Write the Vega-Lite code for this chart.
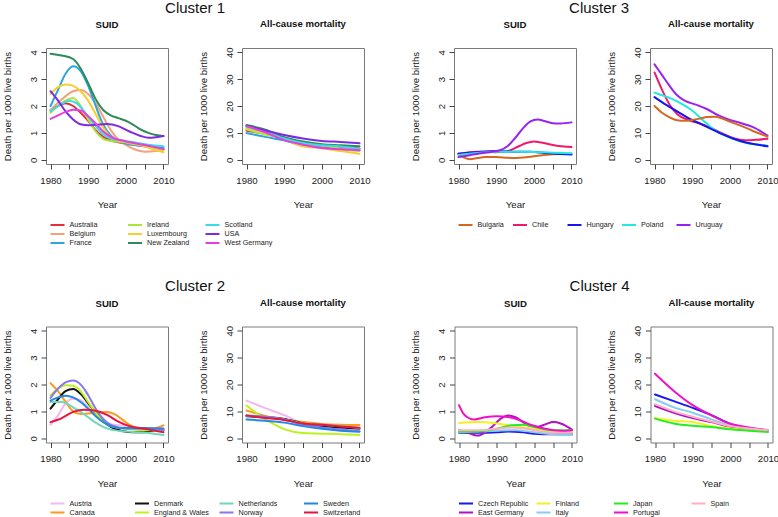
{
"$schema": "https://vega.github.io/schema/vega-lite/v6.json",
"background": "white",
"padding": {"left": 1, "top": 0, "right": 0, "bottom": 0},
"data": {"name": "rows"},
"config": {
  "font": "Liberation Sans",
  "view": {"stroke": "#7a7a7a", "strokeWidth": 1},
  "axis": {"domain": false, "grid": false, "tickColor": "#444444", "tickSize": 5, "tickWidth": 1, "labelFont": "Liberation Sans", "labelFontSize": 9.6, "labelColor": "#1a1a1a", "titleFont": "Liberation Sans", "titleFontSize": 9.6, "titleFontWeight": "normal", "titleColor": "#1a1a1a", "labelFlush": false, "labelOverlap": false},
  "axisX": {"labelPadding": 6, "titlePadding": 15},
  "axisY": {"labelAngle": -90, "labelPadding": 3, "titlePadding": 16},
  "title": {"font": "Liberation Sans", "fontSize": 9.6, "fontWeight": "bold", "anchor": "middle", "frame": "group", "offset": 18, "color": "#111111"},
  "legend": {"labelFont": "Liberation Sans", "labelFontSize": 7.2, "labelColor": "#222222", "symbolSize": 196, "symbolStrokeWidth": 2, "symbolType": "stroke", "labelOffset": 4, "columnPadding": 6.5, "rowPadding": 0, "clipHeight": 9, "gridAlign": "all", "padding": 0}
},
"spacing": 30.5,
"resolve": {"scale": {"color": "independent"}},
"vconcat": [
 {"spacing": 38, "resolve": {"scale": {"color": "independent"}}, "hconcat": [
  {"title": {"text": "Cluster 1", "fontSize": 15, "fontWeight": "normal", "anchor": "middle", "frame": "bounds", "offset": 3, "dx": 9}, "bounds": "flush", "spacing": 74, "hconcat": [
   {"width": 122, "height": 116, "title": "SUID",
    "transform": [{"filter": {"and": [{"field": "cl", "equal": 1}, {"field": "pn", "equal": "S"}]}}],
    "mark": {"type": "line", "interpolate": "monotone", "strokeWidth": 2, "strokeCap": "round"},
    "encoding": {
     "x": {"field": "year", "type": "quantitative", "title": "Year", "scale": {"domain": [1978.8, 2011.2], "nice": false, "zero": false}, "axis": {"values": [1980,1985,1990,1995,2000,2005,2010], "format": "d", "labelExpr": "datum.value % 10 === 0 ? datum.label : ''"}},
     "y": {"field": "value", "type": "quantitative", "title": "Death per 1000 live births", "scale": {"domain": [-0.16, 4.16], "nice": false, "zero": false}, "axis": {"values": [0,1,2,3,4]}},
     "color": {"field": "country", "type": "nominal", "scale": {"domain": ["Australia","Ireland","Scotland","Belgium","Luxembourg","USA","France","New Zealand","West Germany"], "range": ["#E0303A","#A8E63A","#3CD8EC","#F4A07A","#F5CF30","#7B2BE0","#2BA5DE","#2E8B57","#E83CE0"]}, "legend": {"title": null, "orient": "none", "legendX": 3.5, "legendY": 172.5, "columns": 3, "columnPadding": 9.5, "direction": "horizontal"}}
    }},
   {"width": 122, "height": 116, "title": "All-cause mortality",
    "transform": [{"filter": {"and": [{"field": "cl", "equal": 1}, {"field": "pn", "equal": "M"}]}}],
    "mark": {"type": "line", "interpolate": "monotone", "strokeWidth": 2, "strokeCap": "round"},
    "encoding": {
     "x": {"field": "year", "type": "quantitative", "title": "Year", "scale": {"domain": [1978.8, 2011.2], "nice": false, "zero": false}, "axis": {"values": [1980,1985,1990,1995,2000,2005,2010], "format": "d", "labelExpr": "datum.value % 10 === 0 ? datum.label : ''"}},
     "y": {"field": "value", "type": "quantitative", "title": "Death per 1000 live births", "scale": {"domain": [-1.6, 41.6], "nice": false, "zero": false}, "axis": {"values": [0,10,20,30,40]}},
     "color": {"field": "country", "type": "nominal", "scale": {"domain": ["Australia","Ireland","Scotland","Belgium","Luxembourg","USA","France","New Zealand","West Germany"], "range": ["#E0303A","#A8E63A","#3CD8EC","#F4A07A","#F5CF30","#7B2BE0","#2BA5DE","#2E8B57","#E83CE0"]}, "legend": {"title": null, "orient": "none", "legendX": 3.5, "legendY": 172.5, "columns": 3, "columnPadding": 9.5, "direction": "horizontal"}}
    }}
  ]},
  {"title": {"text": "Cluster 3", "fontSize": 15, "fontWeight": "normal", "anchor": "middle", "frame": "bounds", "offset": 3, "dx": 5}, "bounds": "flush", "spacing": 74, "hconcat": [
   {"width": 122, "height": 116, "title": "SUID",
    "transform": [{"filter": {"and": [{"field": "cl", "equal": 3}, {"field": "pn", "equal": "S"}]}}],
    "mark": {"type": "line", "interpolate": "monotone", "strokeWidth": 2, "strokeCap": "round"},
    "encoding": {
     "x": {"field": "year", "type": "quantitative", "title": "Year", "scale": {"domain": [1978.8, 2011.2], "nice": false, "zero": false}, "axis": {"values": [1980,1985,1990,1995,2000,2005,2010], "format": "d", "labelExpr": "datum.value % 10 === 0 ? datum.label : ''"}},
     "y": {"field": "value", "type": "quantitative", "title": "Death per 1000 live births", "scale": {"domain": [-0.16, 4.16], "nice": false, "zero": false}, "axis": {"values": [0,1,2,3,4]}},
     "color": {"field": "country", "type": "nominal", "scale": {"domain": ["Bulgaria","Chile","Hungary","Poland","Uruguay"], "range": ["#D2691E","#F0196A","#1515F0","#22E8E0","#9A22F0"]}, "legend": {"title": null, "orient": "none", "legendX": 3.5, "legendY": 172.5, "columns": 5, "direction": "horizontal"}}
    }},
   {"width": 122, "height": 116, "title": "All-cause mortality",
    "transform": [{"filter": {"and": [{"field": "cl", "equal": 3}, {"field": "pn", "equal": "M"}]}}],
    "mark": {"type": "line", "interpolate": "monotone", "strokeWidth": 2, "strokeCap": "round"},
    "encoding": {
     "x": {"field": "year", "type": "quantitative", "title": "Year", "scale": {"domain": [1978.8, 2011.2], "nice": false, "zero": false}, "axis": {"values": [1980,1985,1990,1995,2000,2005,2010], "format": "d", "labelExpr": "datum.value % 10 === 0 ? datum.label : ''"}},
     "y": {"field": "value", "type": "quantitative", "title": "Death per 1000 live births", "scale": {"domain": [-1.6, 41.6], "nice": false, "zero": false}, "axis": {"values": [0,10,20,30,40]}},
     "color": {"field": "country", "type": "nominal", "scale": {"domain": ["Bulgaria","Chile","Hungary","Poland","Uruguay"], "range": ["#D2691E","#F0196A","#1515F0","#22E8E0","#9A22F0"]}, "legend": {"title": null, "orient": "none", "legendX": 3.5, "legendY": 172.5, "columns": 5, "direction": "horizontal"}}
    }}
  ]}
 ]},
 {"spacing": 38.5, "resolve": {"scale": {"color": "independent"}}, "hconcat": [
  {"title": {"text": "Cluster 2", "fontSize": 15, "fontWeight": "normal", "anchor": "middle", "frame": "bounds", "offset": 3, "dx": 9}, "bounds": "flush", "spacing": 74, "hconcat": [
   {"width": 122, "height": 116, "title": "SUID",
    "transform": [{"filter": {"and": [{"field": "cl", "equal": 2}, {"field": "pn", "equal": "S"}]}}],
    "mark": {"type": "line", "interpolate": "monotone", "strokeWidth": 2, "strokeCap": "round"},
    "encoding": {
     "x": {"field": "year", "type": "quantitative", "title": "Year", "scale": {"domain": [1978.8, 2011.2], "nice": false, "zero": false}, "axis": {"values": [1980,1985,1990,1995,2000,2005,2010], "format": "d", "labelExpr": "datum.value % 10 === 0 ? datum.label : ''"}},
     "y": {"field": "value", "type": "quantitative", "title": "Death per 1000 live births", "scale": {"domain": [-0.16, 4.16], "nice": false, "zero": false}, "axis": {"values": [0,1,2,3,4]}},
     "color": {"field": "country", "type": "nominal", "scale": {"domain": ["Austria","Denmark","Netherlands","Sweden","Canada","England & Wales","Norway","Switzerland"], "range": ["#F4B8EC","#111111","#6ED8B8","#2288E8","#FF9A1A","#BDF21A","#8877EE","#E8143C"]}, "legend": {"title": null, "orient": "none", "legendX": 3.5, "legendY": 172.5, "columns": 4, "columnPadding": 9.5, "direction": "horizontal"}}
    }},
   {"width": 122, "height": 116, "title": "All-cause mortality",
    "transform": [{"filter": {"and": [{"field": "cl", "equal": 2}, {"field": "pn", "equal": "M"}]}}],
    "mark": {"type": "line", "interpolate": "monotone", "strokeWidth": 2, "strokeCap": "round"},
    "encoding": {
     "x": {"field": "year", "type": "quantitative", "title": "Year", "scale": {"domain": [1978.8, 2011.2], "nice": false, "zero": false}, "axis": {"values": [1980,1985,1990,1995,2000,2005,2010], "format": "d", "labelExpr": "datum.value % 10 === 0 ? datum.label : ''"}},
     "y": {"field": "value", "type": "quantitative", "title": "Death per 1000 live births", "scale": {"domain": [-1.6, 41.6], "nice": false, "zero": false}, "axis": {"values": [0,10,20,30,40]}},
     "color": {"field": "country", "type": "nominal", "scale": {"domain": ["Austria","Denmark","Netherlands","Sweden","Canada","England & Wales","Norway","Switzerland"], "range": ["#F4B8EC","#111111","#6ED8B8","#2288E8","#FF9A1A","#BDF21A","#8877EE","#E8143C"]}, "legend": {"title": null, "orient": "none", "legendX": 3.5, "legendY": 172.5, "columns": 4, "columnPadding": 9.5, "direction": "horizontal"}}
    }}
  ]},
  {"title": {"text": "Cluster 4", "fontSize": 15, "fontWeight": "normal", "anchor": "middle", "frame": "bounds", "offset": 3, "dx": 5}, "bounds": "flush", "spacing": 74, "hconcat": [
   {"width": 122, "height": 116, "title": "SUID",
    "transform": [{"filter": {"and": [{"field": "cl", "equal": 4}, {"field": "pn", "equal": "S"}]}}],
    "mark": {"type": "line", "interpolate": "monotone", "strokeWidth": 2, "strokeCap": "round"},
    "encoding": {
     "x": {"field": "year", "type": "quantitative", "title": "Year", "scale": {"domain": [1978.8, 2011.2], "nice": false, "zero": false}, "axis": {"values": [1980,1985,1990,1995,2000,2005,2010], "format": "d", "labelExpr": "datum.value % 10 === 0 ? datum.label : ''"}},
     "y": {"field": "value", "type": "quantitative", "title": "Death per 1000 live births", "scale": {"domain": [-0.16, 4.16], "nice": false, "zero": false}, "axis": {"values": [0,1,2,3,4]}},
     "color": {"field": "country", "type": "nominal", "scale": {"domain": ["Czech Republic","Finland","Japan","Spain","East Germany","Italy","Portugal"], "range": ["#1818F0","#F5F020","#22EE22","#FFB0C0","#B010C8","#88CCEE","#F010C8"]}, "legend": {"title": null, "orient": "none", "legendX": 3.5, "legendY": 172.5, "columns": 4, "direction": "horizontal"}}
    }},
   {"width": 122, "height": 116, "title": "All-cause mortality",
    "transform": [{"filter": {"and": [{"field": "cl", "equal": 4}, {"field": "pn", "equal": "M"}]}}],
    "mark": {"type": "line", "interpolate": "monotone", "strokeWidth": 2, "strokeCap": "round"},
    "encoding": {
     "x": {"field": "year", "type": "quantitative", "title": "Year", "scale": {"domain": [1978.8, 2011.2], "nice": false, "zero": false}, "axis": {"values": [1980,1985,1990,1995,2000,2005,2010], "format": "d", "labelExpr": "datum.value % 10 === 0 ? datum.label : ''"}},
     "y": {"field": "value", "type": "quantitative", "title": "Death per 1000 live births", "scale": {"domain": [-1.6, 41.6], "nice": false, "zero": false}, "axis": {"values": [0,10,20,30,40]}},
     "color": {"field": "country", "type": "nominal", "scale": {"domain": ["Czech Republic","Finland","Japan","Spain","East Germany","Italy","Portugal"], "range": ["#1818F0","#F5F020","#22EE22","#FFB0C0","#B010C8","#88CCEE","#F010C8"]}, "legend": {"title": null, "orient": "none", "legendX": 3.5, "legendY": 172.5, "columns": 4, "direction": "horizontal"}}
    }}
  ]}
 ]}
],
"datasets": {"rows": [
{"cl":1,"pn":"S","country":"Australia","year":1980,"value":1.85},{"cl":1,"pn":"S","country":"Australia","year":1982,"value":2.0},{"cl":1,"pn":"S","country":"Australia","year":1984,"value":2.1},{"cl":1,"pn":"S","country":"Australia","year":1986,"value":2.0},{"cl":1,"pn":"S","country":"Australia","year":1988,"value":1.75},{"cl":1,"pn":"S","country":"Australia","year":1990,"value":1.45},{"cl":1,"pn":"S","country":"Australia","year":1992,"value":1.1},{"cl":1,"pn":"S","country":"Australia","year":1994,"value":0.85},{"cl":1,"pn":"S","country":"Australia","year":1996,"value":0.72},{"cl":1,"pn":"S","country":"Australia","year":2000,"value":0.6},{"cl":1,"pn":"S","country":"Australia","year":2005,"value":0.5},{"cl":1,"pn":"S","country":"Australia","year":2010,"value":0.4},
{"cl":1,"pn":"S","country":"Belgium","year":1980,"value":1.85},{"cl":1,"pn":"S","country":"Belgium","year":1983,"value":2.25},{"cl":1,"pn":"S","country":"Belgium","year":1986,"value":2.55},{"cl":1,"pn":"S","country":"Belgium","year":1988,"value":2.6},{"cl":1,"pn":"S","country":"Belgium","year":1990,"value":2.45},{"cl":1,"pn":"S","country":"Belgium","year":1992,"value":2.1},{"cl":1,"pn":"S","country":"Belgium","year":1994,"value":1.6},{"cl":1,"pn":"S","country":"Belgium","year":1996,"value":1.1},{"cl":1,"pn":"S","country":"Belgium","year":1998,"value":0.75},{"cl":1,"pn":"S","country":"Belgium","year":2000,"value":0.55},{"cl":1,"pn":"S","country":"Belgium","year":2003,"value":0.35},{"cl":1,"pn":"S","country":"Belgium","year":2005,"value":0.3},{"cl":1,"pn":"S","country":"Belgium","year":2008,"value":0.32},{"cl":1,"pn":"S","country":"Belgium","year":2010,"value":0.38},
{"cl":1,"pn":"S","country":"France","year":1980,"value":2.0},{"cl":1,"pn":"S","country":"France","year":1982,"value":2.6},{"cl":1,"pn":"S","country":"France","year":1984,"value":3.2},{"cl":1,"pn":"S","country":"France","year":1986,"value":3.48},{"cl":1,"pn":"S","country":"France","year":1988,"value":3.3},{"cl":1,"pn":"S","country":"France","year":1990,"value":2.75},{"cl":1,"pn":"S","country":"France","year":1992,"value":2.0},{"cl":1,"pn":"S","country":"France","year":1994,"value":1.3},{"cl":1,"pn":"S","country":"France","year":1996,"value":0.9},{"cl":1,"pn":"S","country":"France","year":1998,"value":0.7},{"cl":1,"pn":"S","country":"France","year":2000,"value":0.6},{"cl":1,"pn":"S","country":"France","year":2005,"value":0.5},{"cl":1,"pn":"S","country":"France","year":2010,"value":0.45},
{"cl":1,"pn":"S","country":"Ireland","year":1980,"value":1.75},{"cl":1,"pn":"S","country":"Ireland","year":1982,"value":2.0},{"cl":1,"pn":"S","country":"Ireland","year":1984,"value":2.2},{"cl":1,"pn":"S","country":"Ireland","year":1986,"value":2.3},{"cl":1,"pn":"S","country":"Ireland","year":1988,"value":2.0},{"cl":1,"pn":"S","country":"Ireland","year":1990,"value":1.5},{"cl":1,"pn":"S","country":"Ireland","year":1992,"value":1.05},{"cl":1,"pn":"S","country":"Ireland","year":1994,"value":0.78},{"cl":1,"pn":"S","country":"Ireland","year":1996,"value":0.7},{"cl":1,"pn":"S","country":"Ireland","year":2000,"value":0.65},{"cl":1,"pn":"S","country":"Ireland","year":2005,"value":0.55},{"cl":1,"pn":"S","country":"Ireland","year":2008,"value":0.42},{"cl":1,"pn":"S","country":"Ireland","year":2010,"value":0.35},
{"cl":1,"pn":"S","country":"Luxembourg","year":1980,"value":2.45},{"cl":1,"pn":"S","country":"Luxembourg","year":1982,"value":2.7},{"cl":1,"pn":"S","country":"Luxembourg","year":1984,"value":2.8},{"cl":1,"pn":"S","country":"Luxembourg","year":1986,"value":2.75},{"cl":1,"pn":"S","country":"Luxembourg","year":1988,"value":2.55},{"cl":1,"pn":"S","country":"Luxembourg","year":1990,"value":2.2},{"cl":1,"pn":"S","country":"Luxembourg","year":1992,"value":1.7},{"cl":1,"pn":"S","country":"Luxembourg","year":1994,"value":1.2},{"cl":1,"pn":"S","country":"Luxembourg","year":1996,"value":0.85},{"cl":1,"pn":"S","country":"Luxembourg","year":2000,"value":0.65},{"cl":1,"pn":"S","country":"Luxembourg","year":2005,"value":0.5},{"cl":1,"pn":"S","country":"Luxembourg","year":2008,"value":0.35},{"cl":1,"pn":"S","country":"Luxembourg","year":2010,"value":0.28},
{"cl":1,"pn":"S","country":"New Zealand","year":1980,"value":3.95},{"cl":1,"pn":"S","country":"New Zealand","year":1983,"value":3.88},{"cl":1,"pn":"S","country":"New Zealand","year":1986,"value":3.75},{"cl":1,"pn":"S","country":"New Zealand","year":1988,"value":3.4},{"cl":1,"pn":"S","country":"New Zealand","year":1990,"value":2.85},{"cl":1,"pn":"S","country":"New Zealand","year":1992,"value":2.25},{"cl":1,"pn":"S","country":"New Zealand","year":1994,"value":1.85},{"cl":1,"pn":"S","country":"New Zealand","year":1996,"value":1.65},{"cl":1,"pn":"S","country":"New Zealand","year":1998,"value":1.55},{"cl":1,"pn":"S","country":"New Zealand","year":2000,"value":1.45},{"cl":1,"pn":"S","country":"New Zealand","year":2002,"value":1.3},{"cl":1,"pn":"S","country":"New Zealand","year":2004,"value":1.12},{"cl":1,"pn":"S","country":"New Zealand","year":2006,"value":1.0},{"cl":1,"pn":"S","country":"New Zealand","year":2008,"value":0.92},{"cl":1,"pn":"S","country":"New Zealand","year":2010,"value":0.88},
{"cl":1,"pn":"S","country":"Scotland","year":1980,"value":1.8},{"cl":1,"pn":"S","country":"Scotland","year":1982,"value":2.0},{"cl":1,"pn":"S","country":"Scotland","year":1985,"value":2.2},{"cl":1,"pn":"S","country":"Scotland","year":1987,"value":2.1},{"cl":1,"pn":"S","country":"Scotland","year":1990,"value":1.6},{"cl":1,"pn":"S","country":"Scotland","year":1992,"value":1.25},{"cl":1,"pn":"S","country":"Scotland","year":1994,"value":0.95},{"cl":1,"pn":"S","country":"Scotland","year":1996,"value":0.8},{"cl":1,"pn":"S","country":"Scotland","year":2000,"value":0.7},{"cl":1,"pn":"S","country":"Scotland","year":2005,"value":0.58},{"cl":1,"pn":"S","country":"Scotland","year":2010,"value":0.5},
{"cl":1,"pn":"S","country":"USA","year":1980,"value":2.55},{"cl":1,"pn":"S","country":"USA","year":1982,"value":2.2},{"cl":1,"pn":"S","country":"USA","year":1984,"value":1.8},{"cl":1,"pn":"S","country":"USA","year":1986,"value":1.5},{"cl":1,"pn":"S","country":"USA","year":1988,"value":1.32},{"cl":1,"pn":"S","country":"USA","year":1990,"value":1.28},{"cl":1,"pn":"S","country":"USA","year":1992,"value":1.3},{"cl":1,"pn":"S","country":"USA","year":1995,"value":1.33},{"cl":1,"pn":"S","country":"USA","year":1998,"value":1.25},{"cl":1,"pn":"S","country":"USA","year":2001,"value":1.05},{"cl":1,"pn":"S","country":"USA","year":2004,"value":0.88},{"cl":1,"pn":"S","country":"USA","year":2006,"value":0.82},{"cl":1,"pn":"S","country":"USA","year":2008,"value":0.84},{"cl":1,"pn":"S","country":"USA","year":2010,"value":0.88},
{"cl":1,"pn":"S","country":"West Germany","year":1980,"value":1.52},{"cl":1,"pn":"S","country":"West Germany","year":1982,"value":1.65},{"cl":1,"pn":"S","country":"West Germany","year":1984,"value":1.78},{"cl":1,"pn":"S","country":"West Germany","year":1986,"value":1.86},{"cl":1,"pn":"S","country":"West Germany","year":1988,"value":1.83},{"cl":1,"pn":"S","country":"West Germany","year":1990,"value":1.62},{"cl":1,"pn":"S","country":"West Germany","year":1992,"value":1.35},{"cl":1,"pn":"S","country":"West Germany","year":1994,"value":1.05},{"cl":1,"pn":"S","country":"West Germany","year":1996,"value":0.85},{"cl":1,"pn":"S","country":"West Germany","year":2000,"value":0.68},{"cl":1,"pn":"S","country":"West Germany","year":2005,"value":0.55},{"cl":1,"pn":"S","country":"West Germany","year":2010,"value":0.4},
{"cl":1,"pn":"M","country":"Australia","year":1980,"value":10.8},{"cl":1,"pn":"M","country":"Australia","year":1985,"value":9.6},{"cl":1,"pn":"M","country":"Australia","year":1990,"value":8.0},{"cl":1,"pn":"M","country":"Australia","year":1995,"value":6.0},{"cl":1,"pn":"M","country":"Australia","year":2000,"value":5.2},{"cl":1,"pn":"M","country":"Australia","year":2005,"value":4.8},{"cl":1,"pn":"M","country":"Australia","year":2010,"value":4.2},
{"cl":1,"pn":"M","country":"Belgium","year":1980,"value":11.8},{"cl":1,"pn":"M","country":"Belgium","year":1985,"value":10.0},{"cl":1,"pn":"M","country":"Belgium","year":1990,"value":7.8},{"cl":1,"pn":"M","country":"Belgium","year":1995,"value":5.9},{"cl":1,"pn":"M","country":"Belgium","year":2000,"value":5.0},{"cl":1,"pn":"M","country":"Belgium","year":2005,"value":4.0},{"cl":1,"pn":"M","country":"Belgium","year":2010,"value":3.5},
{"cl":1,"pn":"M","country":"France","year":1980,"value":9.9},{"cl":1,"pn":"M","country":"France","year":1985,"value":8.5},{"cl":1,"pn":"M","country":"France","year":1990,"value":7.2},{"cl":1,"pn":"M","country":"France","year":1995,"value":5.3},{"cl":1,"pn":"M","country":"France","year":2000,"value":4.5},{"cl":1,"pn":"M","country":"France","year":2005,"value":3.8},{"cl":1,"pn":"M","country":"France","year":2010,"value":3.5},
{"cl":1,"pn":"M","country":"Ireland","year":1980,"value":11.2},{"cl":1,"pn":"M","country":"Ireland","year":1985,"value":9.4},{"cl":1,"pn":"M","country":"Ireland","year":1990,"value":7.9},{"cl":1,"pn":"M","country":"Ireland","year":1995,"value":6.0},{"cl":1,"pn":"M","country":"Ireland","year":2000,"value":5.6},{"cl":1,"pn":"M","country":"Ireland","year":2005,"value":4.0},{"cl":1,"pn":"M","country":"Ireland","year":2010,"value":3.3},
{"cl":1,"pn":"M","country":"Luxembourg","year":1980,"value":11.6},{"cl":1,"pn":"M","country":"Luxembourg","year":1985,"value":10.0},{"cl":1,"pn":"M","country":"Luxembourg","year":1990,"value":7.7},{"cl":1,"pn":"M","country":"Luxembourg","year":1995,"value":4.9},{"cl":1,"pn":"M","country":"Luxembourg","year":2000,"value":4.3},{"cl":1,"pn":"M","country":"Luxembourg","year":2005,"value":3.2},{"cl":1,"pn":"M","country":"Luxembourg","year":2010,"value":2.2},
{"cl":1,"pn":"M","country":"New Zealand","year":1980,"value":12.9},{"cl":1,"pn":"M","country":"New Zealand","year":1985,"value":11.2},{"cl":1,"pn":"M","country":"New Zealand","year":1990,"value":8.4},{"cl":1,"pn":"M","country":"New Zealand","year":1995,"value":6.8},{"cl":1,"pn":"M","country":"New Zealand","year":2000,"value":5.8},{"cl":1,"pn":"M","country":"New Zealand","year":2005,"value":5.4},{"cl":1,"pn":"M","country":"New Zealand","year":2010,"value":5.0},
{"cl":1,"pn":"M","country":"Scotland","year":1980,"value":12.2},{"cl":1,"pn":"M","country":"Scotland","year":1985,"value":10.3},{"cl":1,"pn":"M","country":"Scotland","year":1990,"value":7.9},{"cl":1,"pn":"M","country":"Scotland","year":1995,"value":6.2},{"cl":1,"pn":"M","country":"Scotland","year":2000,"value":5.4},{"cl":1,"pn":"M","country":"Scotland","year":2005,"value":4.9},{"cl":1,"pn":"M","country":"Scotland","year":2010,"value":4.0},
{"cl":1,"pn":"M","country":"USA","year":1980,"value":12.6},{"cl":1,"pn":"M","country":"USA","year":1985,"value":10.9},{"cl":1,"pn":"M","country":"USA","year":1990,"value":9.2},{"cl":1,"pn":"M","country":"USA","year":1995,"value":7.9},{"cl":1,"pn":"M","country":"USA","year":2000,"value":7.0},{"cl":1,"pn":"M","country":"USA","year":2005,"value":6.6},{"cl":1,"pn":"M","country":"USA","year":2010,"value":6.1},
{"cl":1,"pn":"M","country":"West Germany","year":1980,"value":12.5},{"cl":1,"pn":"M","country":"West Germany","year":1985,"value":10.2},{"cl":1,"pn":"M","country":"West Germany","year":1990,"value":7.3},{"cl":1,"pn":"M","country":"West Germany","year":1995,"value":5.6},{"cl":1,"pn":"M","country":"West Germany","year":2000,"value":4.4},{"cl":1,"pn":"M","country":"West Germany","year":2005,"value":3.9},{"cl":1,"pn":"M","country":"West Germany","year":2010,"value":3.5},
{"cl":3,"pn":"S","country":"Bulgaria","year":1980,"value":0.2},{"cl":3,"pn":"S","country":"Bulgaria","year":1982,"value":0.05},{"cl":3,"pn":"S","country":"Bulgaria","year":1983,"value":0.02},{"cl":3,"pn":"S","country":"Bulgaria","year":1985,"value":0.06},{"cl":3,"pn":"S","country":"Bulgaria","year":1987,"value":0.1},{"cl":3,"pn":"S","country":"Bulgaria","year":1990,"value":0.1},{"cl":3,"pn":"S","country":"Bulgaria","year":1993,"value":0.07},{"cl":3,"pn":"S","country":"Bulgaria","year":1995,"value":0.06},{"cl":3,"pn":"S","country":"Bulgaria","year":1998,"value":0.09},{"cl":3,"pn":"S","country":"Bulgaria","year":2000,"value":0.13},{"cl":3,"pn":"S","country":"Bulgaria","year":2005,"value":0.2},{"cl":3,"pn":"S","country":"Bulgaria","year":2010,"value":0.22},
{"cl":3,"pn":"S","country":"Chile","year":1980,"value":0.22},{"cl":3,"pn":"S","country":"Chile","year":1985,"value":0.3},{"cl":3,"pn":"S","country":"Chile","year":1988,"value":0.3},{"cl":3,"pn":"S","country":"Chile","year":1990,"value":0.28},{"cl":3,"pn":"S","country":"Chile","year":1993,"value":0.32},{"cl":3,"pn":"S","country":"Chile","year":1996,"value":0.5},{"cl":3,"pn":"S","country":"Chile","year":1998,"value":0.62},{"cl":3,"pn":"S","country":"Chile","year":2000,"value":0.68},{"cl":3,"pn":"S","country":"Chile","year":2002,"value":0.64},{"cl":3,"pn":"S","country":"Chile","year":2005,"value":0.55},{"cl":3,"pn":"S","country":"Chile","year":2008,"value":0.49},{"cl":3,"pn":"S","country":"Chile","year":2010,"value":0.47},
{"cl":3,"pn":"S","country":"Hungary","year":1980,"value":0.22},{"cl":3,"pn":"S","country":"Hungary","year":1985,"value":0.28},{"cl":3,"pn":"S","country":"Hungary","year":1990,"value":0.32},{"cl":3,"pn":"S","country":"Hungary","year":1995,"value":0.3},{"cl":3,"pn":"S","country":"Hungary","year":1999,"value":0.3},{"cl":3,"pn":"S","country":"Hungary","year":2003,"value":0.25},{"cl":3,"pn":"S","country":"Hungary","year":2006,"value":0.22},{"cl":3,"pn":"S","country":"Hungary","year":2010,"value":0.19},
{"cl":3,"pn":"S","country":"Poland","year":1980,"value":0.18},{"cl":3,"pn":"S","country":"Poland","year":1985,"value":0.25},{"cl":3,"pn":"S","country":"Poland","year":1990,"value":0.3},{"cl":3,"pn":"S","country":"Poland","year":1995,"value":0.3},{"cl":3,"pn":"S","country":"Poland","year":2000,"value":0.29},{"cl":3,"pn":"S","country":"Poland","year":2005,"value":0.26},{"cl":3,"pn":"S","country":"Poland","year":2010,"value":0.24},
{"cl":3,"pn":"S","country":"Uruguay","year":1980,"value":0.1},{"cl":3,"pn":"S","country":"Uruguay","year":1983,"value":0.17},{"cl":3,"pn":"S","country":"Uruguay","year":1986,"value":0.24},{"cl":3,"pn":"S","country":"Uruguay","year":1989,"value":0.3},{"cl":3,"pn":"S","country":"Uruguay","year":1991,"value":0.35},{"cl":3,"pn":"S","country":"Uruguay","year":1993,"value":0.5},{"cl":3,"pn":"S","country":"Uruguay","year":1995,"value":0.8},{"cl":3,"pn":"S","country":"Uruguay","year":1997,"value":1.15},{"cl":3,"pn":"S","country":"Uruguay","year":1999,"value":1.42},{"cl":3,"pn":"S","country":"Uruguay","year":2001,"value":1.5},{"cl":3,"pn":"S","country":"Uruguay","year":2003,"value":1.43},{"cl":3,"pn":"S","country":"Uruguay","year":2005,"value":1.36},{"cl":3,"pn":"S","country":"Uruguay","year":2007,"value":1.35},{"cl":3,"pn":"S","country":"Uruguay","year":2010,"value":1.39},
{"cl":3,"pn":"M","country":"Uruguay","year":1980,"value":35.5},{"cl":3,"pn":"M","country":"Uruguay","year":1982,"value":31.5},{"cl":3,"pn":"M","country":"Uruguay","year":1984,"value":27.5},{"cl":3,"pn":"M","country":"Uruguay","year":1986,"value":24.0},{"cl":3,"pn":"M","country":"Uruguay","year":1988,"value":22.0},{"cl":3,"pn":"M","country":"Uruguay","year":1991,"value":20.5},{"cl":3,"pn":"M","country":"Uruguay","year":1994,"value":18.8},{"cl":3,"pn":"M","country":"Uruguay","year":1997,"value":16.5},{"cl":3,"pn":"M","country":"Uruguay","year":2000,"value":14.8},{"cl":3,"pn":"M","country":"Uruguay","year":2003,"value":13.6},{"cl":3,"pn":"M","country":"Uruguay","year":2006,"value":12.2},{"cl":3,"pn":"M","country":"Uruguay","year":2010,"value":9.0},
{"cl":3,"pn":"M","country":"Chile","year":1980,"value":32.5},{"cl":3,"pn":"M","country":"Chile","year":1982,"value":26.0},{"cl":3,"pn":"M","country":"Chile","year":1984,"value":20.5},{"cl":3,"pn":"M","country":"Chile","year":1986,"value":17.0},{"cl":3,"pn":"M","country":"Chile","year":1989,"value":14.8},{"cl":3,"pn":"M","country":"Chile","year":1992,"value":13.5},{"cl":3,"pn":"M","country":"Chile","year":1995,"value":11.8},{"cl":3,"pn":"M","country":"Chile","year":1998,"value":9.8},{"cl":3,"pn":"M","country":"Chile","year":2001,"value":8.0},{"cl":3,"pn":"M","country":"Chile","year":2004,"value":7.2},{"cl":3,"pn":"M","country":"Chile","year":2007,"value":7.4},{"cl":3,"pn":"M","country":"Chile","year":2010,"value":7.8},
{"cl":3,"pn":"M","country":"Poland","year":1980,"value":25.0},{"cl":3,"pn":"M","country":"Poland","year":1982,"value":24.0},{"cl":3,"pn":"M","country":"Poland","year":1984,"value":23.0},{"cl":3,"pn":"M","country":"Poland","year":1987,"value":21.0},{"cl":3,"pn":"M","country":"Poland","year":1990,"value":18.3},{"cl":3,"pn":"M","country":"Poland","year":1993,"value":14.5},{"cl":3,"pn":"M","country":"Poland","year":1996,"value":11.0},{"cl":3,"pn":"M","country":"Poland","year":1999,"value":8.8},{"cl":3,"pn":"M","country":"Poland","year":2002,"value":7.2},{"cl":3,"pn":"M","country":"Poland","year":2005,"value":6.0},{"cl":3,"pn":"M","country":"Poland","year":2008,"value":5.6},{"cl":3,"pn":"M","country":"Poland","year":2010,"value":5.2},
{"cl":3,"pn":"M","country":"Hungary","year":1980,"value":23.3},{"cl":3,"pn":"M","country":"Hungary","year":1983,"value":20.5},{"cl":3,"pn":"M","country":"Hungary","year":1986,"value":18.0},{"cl":3,"pn":"M","country":"Hungary","year":1989,"value":15.5},{"cl":3,"pn":"M","country":"Hungary","year":1992,"value":13.5},{"cl":3,"pn":"M","country":"Hungary","year":1995,"value":11.5},{"cl":3,"pn":"M","country":"Hungary","year":1998,"value":9.5},{"cl":3,"pn":"M","country":"Hungary","year":2001,"value":7.8},{"cl":3,"pn":"M","country":"Hungary","year":2004,"value":6.5},{"cl":3,"pn":"M","country":"Hungary","year":2007,"value":5.7},{"cl":3,"pn":"M","country":"Hungary","year":2010,"value":5.0},
{"cl":3,"pn":"M","country":"Bulgaria","year":1980,"value":20.0},{"cl":3,"pn":"M","country":"Bulgaria","year":1982,"value":17.5},{"cl":3,"pn":"M","country":"Bulgaria","year":1984,"value":15.8},{"cl":3,"pn":"M","country":"Bulgaria","year":1986,"value":14.7},{"cl":3,"pn":"M","country":"Bulgaria","year":1988,"value":14.5},{"cl":3,"pn":"M","country":"Bulgaria","year":1990,"value":14.8},{"cl":3,"pn":"M","country":"Bulgaria","year":1992,"value":15.3},{"cl":3,"pn":"M","country":"Bulgaria","year":1994,"value":15.9},{"cl":3,"pn":"M","country":"Bulgaria","year":1996,"value":16.0},{"cl":3,"pn":"M","country":"Bulgaria","year":1998,"value":15.3},{"cl":3,"pn":"M","country":"Bulgaria","year":2000,"value":14.2},{"cl":3,"pn":"M","country":"Bulgaria","year":2003,"value":12.6},{"cl":3,"pn":"M","country":"Bulgaria","year":2006,"value":10.8},{"cl":3,"pn":"M","country":"Bulgaria","year":2010,"value":8.6},
{"cl":2,"pn":"S","country":"Austria","year":1980,"value":0.5},{"cl":2,"pn":"S","country":"Austria","year":1982,"value":0.85},{"cl":2,"pn":"S","country":"Austria","year":1984,"value":1.3},{"cl":2,"pn":"S","country":"Austria","year":1986,"value":1.47},{"cl":2,"pn":"S","country":"Austria","year":1988,"value":1.42},{"cl":2,"pn":"S","country":"Austria","year":1990,"value":1.15},{"cl":2,"pn":"S","country":"Austria","year":1992,"value":0.85},{"cl":2,"pn":"S","country":"Austria","year":1994,"value":0.62},{"cl":2,"pn":"S","country":"Austria","year":1996,"value":0.52},{"cl":2,"pn":"S","country":"Austria","year":1999,"value":0.47},{"cl":2,"pn":"S","country":"Austria","year":2002,"value":0.42},{"cl":2,"pn":"S","country":"Austria","year":2006,"value":0.3},{"cl":2,"pn":"S","country":"Austria","year":2010,"value":0.25},
{"cl":2,"pn":"S","country":"Canada","year":1980,"value":2.05},{"cl":2,"pn":"S","country":"Canada","year":1982,"value":1.75},{"cl":2,"pn":"S","country":"Canada","year":1984,"value":1.35},{"cl":2,"pn":"S","country":"Canada","year":1986,"value":1.0},{"cl":2,"pn":"S","country":"Canada","year":1988,"value":0.9},{"cl":2,"pn":"S","country":"Canada","year":1990,"value":0.92},{"cl":2,"pn":"S","country":"Canada","year":1993,"value":0.96},{"cl":2,"pn":"S","country":"Canada","year":1995,"value":0.98},{"cl":2,"pn":"S","country":"Canada","year":1997,"value":0.9},{"cl":2,"pn":"S","country":"Canada","year":1999,"value":0.7},{"cl":2,"pn":"S","country":"Canada","year":2001,"value":0.5},{"cl":2,"pn":"S","country":"Canada","year":2004,"value":0.36},{"cl":2,"pn":"S","country":"Canada","year":2007,"value":0.36},{"cl":2,"pn":"S","country":"Canada","year":2010,"value":0.48},
{"cl":2,"pn":"S","country":"Denmark","year":1980,"value":1.1},{"cl":2,"pn":"S","country":"Denmark","year":1982,"value":1.45},{"cl":2,"pn":"S","country":"Denmark","year":1984,"value":1.75},{"cl":2,"pn":"S","country":"Denmark","year":1986,"value":1.83},{"cl":2,"pn":"S","country":"Denmark","year":1988,"value":1.65},{"cl":2,"pn":"S","country":"Denmark","year":1990,"value":1.3},{"cl":2,"pn":"S","country":"Denmark","year":1992,"value":0.95},{"cl":2,"pn":"S","country":"Denmark","year":1994,"value":0.65},{"cl":2,"pn":"S","country":"Denmark","year":1996,"value":0.42},{"cl":2,"pn":"S","country":"Denmark","year":1999,"value":0.27},{"cl":2,"pn":"S","country":"Denmark","year":2002,"value":0.22},{"cl":2,"pn":"S","country":"Denmark","year":2004,"value":0.22},{"cl":2,"pn":"S","country":"Denmark","year":2007,"value":0.28},{"cl":2,"pn":"S","country":"Denmark","year":2010,"value":0.32},
{"cl":2,"pn":"S","country":"England & Wales","year":1980,"value":1.6},{"cl":2,"pn":"S","country":"England & Wales","year":1982,"value":1.85},{"cl":2,"pn":"S","country":"England & Wales","year":1984,"value":1.97},{"cl":2,"pn":"S","country":"England & Wales","year":1986,"value":1.95},{"cl":2,"pn":"S","country":"England & Wales","year":1988,"value":1.75},{"cl":2,"pn":"S","country":"England & Wales","year":1990,"value":1.35},{"cl":2,"pn":"S","country":"England & Wales","year":1992,"value":0.95},{"cl":2,"pn":"S","country":"England & Wales","year":1994,"value":0.62},{"cl":2,"pn":"S","country":"England & Wales","year":1996,"value":0.45},{"cl":2,"pn":"S","country":"England & Wales","year":2000,"value":0.35},{"cl":2,"pn":"S","country":"England & Wales","year":2005,"value":0.3},{"cl":2,"pn":"S","country":"England & Wales","year":2010,"value":0.3},
{"cl":2,"pn":"S","country":"Netherlands","year":1980,"value":1.35},{"cl":2,"pn":"S","country":"Netherlands","year":1983,"value":1.35},{"cl":2,"pn":"S","country":"Netherlands","year":1986,"value":1.15},{"cl":2,"pn":"S","country":"Netherlands","year":1988,"value":0.98},{"cl":2,"pn":"S","country":"Netherlands","year":1990,"value":0.78},{"cl":2,"pn":"S","country":"Netherlands","year":1992,"value":0.58},{"cl":2,"pn":"S","country":"Netherlands","year":1994,"value":0.42},{"cl":2,"pn":"S","country":"Netherlands","year":1996,"value":0.32},{"cl":2,"pn":"S","country":"Netherlands","year":2000,"value":0.25},{"cl":2,"pn":"S","country":"Netherlands","year":2005,"value":0.2},{"cl":2,"pn":"S","country":"Netherlands","year":2010,"value":0.12},
{"cl":2,"pn":"S","country":"Norway","year":1980,"value":1.5},{"cl":2,"pn":"S","country":"Norway","year":1982,"value":1.85},{"cl":2,"pn":"S","country":"Norway","year":1984,"value":2.08},{"cl":2,"pn":"S","country":"Norway","year":1986,"value":2.15},{"cl":2,"pn":"S","country":"Norway","year":1988,"value":2.0},{"cl":2,"pn":"S","country":"Norway","year":1990,"value":1.6},{"cl":2,"pn":"S","country":"Norway","year":1992,"value":1.1},{"cl":2,"pn":"S","country":"Norway","year":1994,"value":0.72},{"cl":2,"pn":"S","country":"Norway","year":1996,"value":0.5},{"cl":2,"pn":"S","country":"Norway","year":2000,"value":0.36},{"cl":2,"pn":"S","country":"Norway","year":2005,"value":0.35},{"cl":2,"pn":"S","country":"Norway","year":2010,"value":0.3},
{"cl":2,"pn":"S","country":"Sweden","year":1980,"value":1.4},{"cl":2,"pn":"S","country":"Sweden","year":1982,"value":1.52},{"cl":2,"pn":"S","country":"Sweden","year":1984,"value":1.58},{"cl":2,"pn":"S","country":"Sweden","year":1986,"value":1.52},{"cl":2,"pn":"S","country":"Sweden","year":1988,"value":1.35},{"cl":2,"pn":"S","country":"Sweden","year":1990,"value":1.1},{"cl":2,"pn":"S","country":"Sweden","year":1992,"value":0.82},{"cl":2,"pn":"S","country":"Sweden","year":1994,"value":0.6},{"cl":2,"pn":"S","country":"Sweden","year":1996,"value":0.45},{"cl":2,"pn":"S","country":"Sweden","year":1999,"value":0.38},{"cl":2,"pn":"S","country":"Sweden","year":2005,"value":0.38},{"cl":2,"pn":"S","country":"Sweden","year":2010,"value":0.36},
{"cl":2,"pn":"S","country":"Switzerland","year":1980,"value":0.6},{"cl":2,"pn":"S","country":"Switzerland","year":1983,"value":0.75},{"cl":2,"pn":"S","country":"Switzerland","year":1986,"value":0.98},{"cl":2,"pn":"S","country":"Switzerland","year":1989,"value":1.06},{"cl":2,"pn":"S","country":"Switzerland","year":1992,"value":1.02},{"cl":2,"pn":"S","country":"Switzerland","year":1995,"value":0.87},{"cl":2,"pn":"S","country":"Switzerland","year":1998,"value":0.62},{"cl":2,"pn":"S","country":"Switzerland","year":2001,"value":0.45},{"cl":2,"pn":"S","country":"Switzerland","year":2005,"value":0.35},{"cl":2,"pn":"S","country":"Switzerland","year":2010,"value":0.22},
{"cl":2,"pn":"M","country":"Austria","year":1980,"value":14.0},{"cl":2,"pn":"M","country":"Austria","year":1985,"value":11.2},{"cl":2,"pn":"M","country":"Austria","year":1990,"value":8.6},{"cl":2,"pn":"M","country":"Austria","year":1995,"value":5.6},{"cl":2,"pn":"M","country":"Austria","year":2000,"value":4.8},{"cl":2,"pn":"M","country":"Austria","year":2005,"value":3.9},{"cl":2,"pn":"M","country":"Austria","year":2010,"value":3.2},
{"cl":2,"pn":"M","country":"Canada","year":1980,"value":10.3},{"cl":2,"pn":"M","country":"Canada","year":1985,"value":8.3},{"cl":2,"pn":"M","country":"Canada","year":1990,"value":7.0},{"cl":2,"pn":"M","country":"Canada","year":1995,"value":6.0},{"cl":2,"pn":"M","country":"Canada","year":2000,"value":5.3},{"cl":2,"pn":"M","country":"Canada","year":2005,"value":5.0},{"cl":2,"pn":"M","country":"Canada","year":2010,"value":4.9},
{"cl":2,"pn":"M","country":"Denmark","year":1980,"value":8.2},{"cl":2,"pn":"M","country":"Denmark","year":1985,"value":7.8},{"cl":2,"pn":"M","country":"Denmark","year":1990,"value":7.2},{"cl":2,"pn":"M","country":"Denmark","year":1995,"value":5.5},{"cl":2,"pn":"M","country":"Denmark","year":2000,"value":4.5},{"cl":2,"pn":"M","country":"Denmark","year":2005,"value":4.0},{"cl":2,"pn":"M","country":"Denmark","year":2010,"value":3.6},
{"cl":2,"pn":"M","country":"England & Wales","year":1980,"value":12.2},{"cl":2,"pn":"M","country":"England & Wales","year":1985,"value":7.1},{"cl":2,"pn":"M","country":"England & Wales","year":1990,"value":3.4},{"cl":2,"pn":"M","country":"England & Wales","year":1995,"value":1.9},{"cl":2,"pn":"M","country":"England & Wales","year":2000,"value":1.7},{"cl":2,"pn":"M","country":"England & Wales","year":2005,"value":1.5},{"cl":2,"pn":"M","country":"England & Wales","year":2010,"value":1.2},
{"cl":2,"pn":"M","country":"Netherlands","year":1980,"value":8.5},{"cl":2,"pn":"M","country":"Netherlands","year":1985,"value":8.0},{"cl":2,"pn":"M","country":"Netherlands","year":1990,"value":7.0},{"cl":2,"pn":"M","country":"Netherlands","year":1995,"value":5.5},{"cl":2,"pn":"M","country":"Netherlands","year":2000,"value":5.0},{"cl":2,"pn":"M","country":"Netherlands","year":2005,"value":4.5},{"cl":2,"pn":"M","country":"Netherlands","year":2010,"value":3.8},
{"cl":2,"pn":"M","country":"Norway","year":1980,"value":8.4},{"cl":2,"pn":"M","country":"Norway","year":1985,"value":8.0},{"cl":2,"pn":"M","country":"Norway","year":1990,"value":7.0},{"cl":2,"pn":"M","country":"Norway","year":1995,"value":5.0},{"cl":2,"pn":"M","country":"Norway","year":2000,"value":4.0},{"cl":2,"pn":"M","country":"Norway","year":2005,"value":3.2},{"cl":2,"pn":"M","country":"Norway","year":2010,"value":2.6},
{"cl":2,"pn":"M","country":"Sweden","year":1980,"value":7.0},{"cl":2,"pn":"M","country":"Sweden","year":1985,"value":6.5},{"cl":2,"pn":"M","country":"Sweden","year":1990,"value":5.8},{"cl":2,"pn":"M","country":"Sweden","year":1995,"value":4.5},{"cl":2,"pn":"M","country":"Sweden","year":2000,"value":3.5},{"cl":2,"pn":"M","country":"Sweden","year":2005,"value":2.8},{"cl":2,"pn":"M","country":"Sweden","year":2010,"value":2.4},
{"cl":2,"pn":"M","country":"Switzerland","year":1980,"value":8.5},{"cl":2,"pn":"M","country":"Switzerland","year":1985,"value":7.5},{"cl":2,"pn":"M","country":"Switzerland","year":1990,"value":6.8},{"cl":2,"pn":"M","country":"Switzerland","year":1995,"value":5.5},{"cl":2,"pn":"M","country":"Switzerland","year":2000,"value":5.0},{"cl":2,"pn":"M","country":"Switzerland","year":2005,"value":4.4},{"cl":2,"pn":"M","country":"Switzerland","year":2010,"value":3.9},
{"cl":4,"pn":"S","country":"Czech Republic","year":1980,"value":0.2},{"cl":4,"pn":"S","country":"Czech Republic","year":1985,"value":0.2},{"cl":4,"pn":"S","country":"Czech Republic","year":1990,"value":0.22},{"cl":4,"pn":"S","country":"Czech Republic","year":1993,"value":0.25},{"cl":4,"pn":"S","country":"Czech Republic","year":1997,"value":0.22},{"cl":4,"pn":"S","country":"Czech Republic","year":2000,"value":0.17},{"cl":4,"pn":"S","country":"Czech Republic","year":2005,"value":0.15},{"cl":4,"pn":"S","country":"Czech Republic","year":2010,"value":0.15},
{"cl":4,"pn":"S","country":"East Germany","year":1980,"value":0.3},{"cl":4,"pn":"S","country":"East Germany","year":1982,"value":0.22},{"cl":4,"pn":"S","country":"East Germany","year":1984,"value":0.12},{"cl":4,"pn":"S","country":"East Germany","year":1985,"value":0.1},{"cl":4,"pn":"S","country":"East Germany","year":1987,"value":0.22},{"cl":4,"pn":"S","country":"East Germany","year":1989,"value":0.45},{"cl":4,"pn":"S","country":"East Germany","year":1991,"value":0.72},{"cl":4,"pn":"S","country":"East Germany","year":1993,"value":0.85},{"cl":4,"pn":"S","country":"East Germany","year":1995,"value":0.78},{"cl":4,"pn":"S","country":"East Germany","year":1997,"value":0.6},{"cl":4,"pn":"S","country":"East Germany","year":1999,"value":0.45},{"cl":4,"pn":"S","country":"East Germany","year":2001,"value":0.43},{"cl":4,"pn":"S","country":"East Germany","year":2003,"value":0.52},{"cl":4,"pn":"S","country":"East Germany","year":2005,"value":0.6},{"cl":4,"pn":"S","country":"East Germany","year":2007,"value":0.55},{"cl":4,"pn":"S","country":"East Germany","year":2010,"value":0.32},
{"cl":4,"pn":"S","country":"Finland","year":1980,"value":0.57},{"cl":4,"pn":"S","country":"Finland","year":1985,"value":0.6},{"cl":4,"pn":"S","country":"Finland","year":1990,"value":0.55},{"cl":4,"pn":"S","country":"Finland","year":1995,"value":0.45},{"cl":4,"pn":"S","country":"Finland","year":2000,"value":0.35},{"cl":4,"pn":"S","country":"Finland","year":2005,"value":0.25},{"cl":4,"pn":"S","country":"Finland","year":2010,"value":0.22},
{"cl":4,"pn":"S","country":"Italy","year":1980,"value":0.22},{"cl":4,"pn":"S","country":"Italy","year":1985,"value":0.25},{"cl":4,"pn":"S","country":"Italy","year":1990,"value":0.28},{"cl":4,"pn":"S","country":"Italy","year":1995,"value":0.3},{"cl":4,"pn":"S","country":"Italy","year":2000,"value":0.22},{"cl":4,"pn":"S","country":"Italy","year":2005,"value":0.15},{"cl":4,"pn":"S","country":"Italy","year":2010,"value":0.12},
{"cl":4,"pn":"S","country":"Japan","year":1980,"value":0.25},{"cl":4,"pn":"S","country":"Japan","year":1985,"value":0.25},{"cl":4,"pn":"S","country":"Japan","year":1990,"value":0.35},{"cl":4,"pn":"S","country":"Japan","year":1994,"value":0.48},{"cl":4,"pn":"S","country":"Japan","year":1997,"value":0.5},{"cl":4,"pn":"S","country":"Japan","year":2000,"value":0.42},{"cl":4,"pn":"S","country":"Japan","year":2005,"value":0.3},{"cl":4,"pn":"S","country":"Japan","year":2010,"value":0.3},
{"cl":4,"pn":"S","country":"Portugal","year":1980,"value":1.23},{"cl":4,"pn":"S","country":"Portugal","year":1981,"value":0.95},{"cl":4,"pn":"S","country":"Portugal","year":1982,"value":0.8},{"cl":4,"pn":"S","country":"Portugal","year":1984,"value":0.7},{"cl":4,"pn":"S","country":"Portugal","year":1987,"value":0.78},{"cl":4,"pn":"S","country":"Portugal","year":1990,"value":0.82},{"cl":4,"pn":"S","country":"Portugal","year":1993,"value":0.79},{"cl":4,"pn":"S","country":"Portugal","year":1996,"value":0.68},{"cl":4,"pn":"S","country":"Portugal","year":1999,"value":0.5},{"cl":4,"pn":"S","country":"Portugal","year":2002,"value":0.38},{"cl":4,"pn":"S","country":"Portugal","year":2005,"value":0.3},{"cl":4,"pn":"S","country":"Portugal","year":2008,"value":0.27},{"cl":4,"pn":"S","country":"Portugal","year":2010,"value":0.3},
{"cl":4,"pn":"S","country":"Spain","year":1980,"value":0.3},{"cl":4,"pn":"S","country":"Spain","year":1985,"value":0.3},{"cl":4,"pn":"S","country":"Spain","year":1990,"value":0.35},{"cl":4,"pn":"S","country":"Spain","year":1994,"value":0.4},{"cl":4,"pn":"S","country":"Spain","year":1998,"value":0.35},{"cl":4,"pn":"S","country":"Spain","year":2002,"value":0.25},{"cl":4,"pn":"S","country":"Spain","year":2006,"value":0.2},{"cl":4,"pn":"S","country":"Spain","year":2010,"value":0.2},
{"cl":4,"pn":"M","country":"Czech Republic","year":1980,"value":16.3},{"cl":4,"pn":"M","country":"Czech Republic","year":1985,"value":13.8},{"cl":4,"pn":"M","country":"Czech Republic","year":1990,"value":11.3},{"cl":4,"pn":"M","country":"Czech Republic","year":1995,"value":8.6},{"cl":4,"pn":"M","country":"Czech Republic","year":2000,"value":5.3},{"cl":4,"pn":"M","country":"Czech Republic","year":2005,"value":3.6},{"cl":4,"pn":"M","country":"Czech Republic","year":2010,"value":2.8},
{"cl":4,"pn":"M","country":"East Germany","year":1980,"value":12.0},{"cl":4,"pn":"M","country":"East Germany","year":1985,"value":9.5},{"cl":4,"pn":"M","country":"East Germany","year":1990,"value":7.5},{"cl":4,"pn":"M","country":"East Germany","year":1995,"value":6.0},{"cl":4,"pn":"M","country":"East Germany","year":2000,"value":4.3},{"cl":4,"pn":"M","country":"East Germany","year":2005,"value":3.5},{"cl":4,"pn":"M","country":"East Germany","year":2010,"value":2.8},
{"cl":4,"pn":"M","country":"Finland","year":1980,"value":7.5},{"cl":4,"pn":"M","country":"Finland","year":1985,"value":6.5},{"cl":4,"pn":"M","country":"Finland","year":1990,"value":6.0},{"cl":4,"pn":"M","country":"Finland","year":1995,"value":4.5},{"cl":4,"pn":"M","country":"Finland","year":2000,"value":3.6},{"cl":4,"pn":"M","country":"Finland","year":2005,"value":3.0},{"cl":4,"pn":"M","country":"Finland","year":2010,"value":2.5},
{"cl":4,"pn":"M","country":"Italy","year":1980,"value":14.5},{"cl":4,"pn":"M","country":"Italy","year":1985,"value":11.5},{"cl":4,"pn":"M","country":"Italy","year":1990,"value":9.5},{"cl":4,"pn":"M","country":"Italy","year":1995,"value":7.0},{"cl":4,"pn":"M","country":"Italy","year":2000,"value":4.8},{"cl":4,"pn":"M","country":"Italy","year":2005,"value":3.5},{"cl":4,"pn":"M","country":"Italy","year":2010,"value":3.0},
{"cl":4,"pn":"M","country":"Japan","year":1980,"value":7.3},{"cl":4,"pn":"M","country":"Japan","year":1985,"value":5.5},{"cl":4,"pn":"M","country":"Japan","year":1990,"value":4.6},{"cl":4,"pn":"M","country":"Japan","year":1995,"value":4.2},{"cl":4,"pn":"M","country":"Japan","year":2000,"value":3.3},{"cl":4,"pn":"M","country":"Japan","year":2005,"value":2.8},{"cl":4,"pn":"M","country":"Japan","year":2010,"value":2.3},
{"cl":4,"pn":"M","country":"Portugal","year":1980,"value":24.0},{"cl":4,"pn":"M","country":"Portugal","year":1985,"value":17.6},{"cl":4,"pn":"M","country":"Portugal","year":1990,"value":12.3},{"cl":4,"pn":"M","country":"Portugal","year":1995,"value":8.5},{"cl":4,"pn":"M","country":"Portugal","year":2000,"value":5.4},{"cl":4,"pn":"M","country":"Portugal","year":2005,"value":4.0},{"cl":4,"pn":"M","country":"Portugal","year":2010,"value":3.0},
{"cl":4,"pn":"M","country":"Spain","year":1980,"value":12.7},{"cl":4,"pn":"M","country":"Spain","year":1985,"value":10.0},{"cl":4,"pn":"M","country":"Spain","year":1990,"value":8.0},{"cl":4,"pn":"M","country":"Spain","year":1995,"value":6.2},{"cl":4,"pn":"M","country":"Spain","year":2000,"value":4.5},{"cl":4,"pn":"M","country":"Spain","year":2005,"value":3.6},{"cl":4,"pn":"M","country":"Spain","year":2010,"value":3.0}
]}
}
